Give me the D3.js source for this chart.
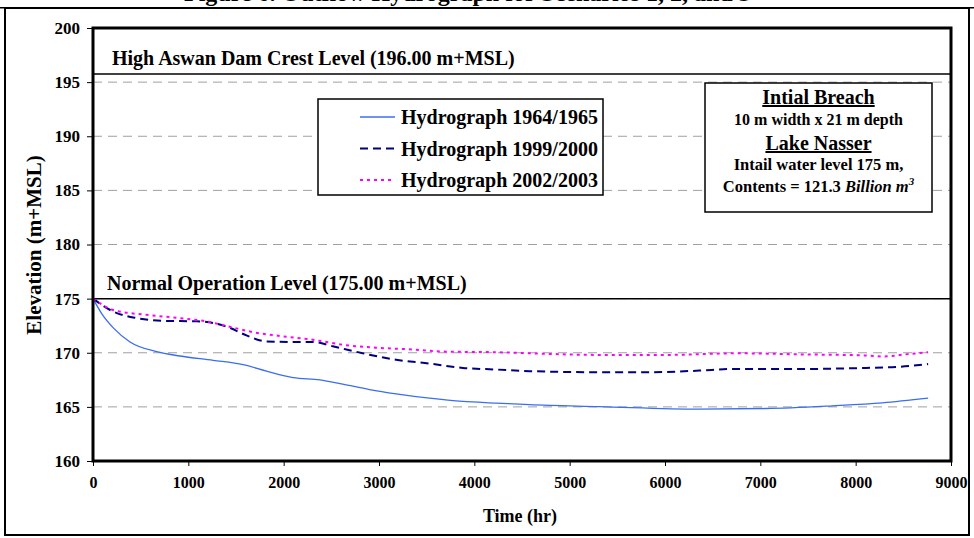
<!DOCTYPE html>
<html><head><meta charset="utf-8">
<script src="https://cdn.jsdelivr.net/npm/d3@7"></script>
<style>
body{margin:0;background:#fff;}
text{font-family:"Liberation Serif","Times New Roman",serif;font-weight:bold;}
</style></head>
<body><svg id="c" width="974" height="538"></svg>
<script>
const titleText = "Figure 6. Outflow Hydrograph for Scenarios 1, 2, and 3";
const xTicks = [0,1000,2000,3000,4000,5000,6000,7000,8000,9000];
const yTicks = [160,165,170,175,180,185,190,195,200];
const gridLevels = [165,170,175,180,185,190,195];
const crestLevel = 195.75;
const normalLevel = 175;
const seriesNames = ["Hydrograph 1964/1965","Hydrograph 1999/2000","Hydrograph 2002/2003"];

const t1 = [0,100,213,388,667,911,1260,1575,1820,2100,2380,2620,2900,3180,3530,3880,4230,4580,5312,6360,7058,7756,8280,8760];
const e1 = [175,173.5,172.3,171.0,170.1,169.7,169.3,168.9,168.3,167.7,167.5,167.1,166.6,166.2,165.8,165.5,165.35,165.2,165.03,164.8,164.85,165.1,165.37,165.8];

const t2 = [0,213,458,737,1086,1260,1435,1610,1820,2134,2305,2515,2830,3180,3530,3880,4230,4580,5312,5836,6360,6710,7408,8106,8455,8760];
const e2 = [175,173.8,173.2,172.95,172.9,172.75,172.3,171.6,171.05,171.0,171.0,170.6,169.95,169.35,169.0,168.6,168.45,168.3,168.2,168.2,168.35,168.5,168.5,168.6,168.7,168.95];

const t3 = [0,213,562,911,1190,1435,1680,1960,2305,2655,3005,3355,3705,4230,4580,5312,6010,6780,7408,8106,8280,8525,8760];
const e3 = [175,173.95,173.5,173.2,172.9,172.4,171.9,171.55,171.2,170.7,170.45,170.3,170.1,170.05,169.95,169.8,169.8,169.95,169.85,169.75,169.65,169.85,170.05];

const svg = d3.select("#c");
const L=93,R=951,T=28,B=461;
const x = d3.scaleLinear().domain([0,9000]).range([L,R]);
const y = d3.scaleLinear().domain([160,200]).range([B,T]);

// outer frame
svg.append("rect").attr("x",5).attr("y",8).attr("width",964).attr("height",527)
  .attr("fill","none").attr("stroke","#000").attr("stroke-width",2);
// clipped title
svg.append("text").attr("x",184).attr("y",1).attr("font-size",24).text(titleText);
svg.append("rect").attr("x",0).attr("y",7).attr("width",974).attr("height",1.5).attr("fill","#000");

// gridlines
svg.selectAll(".g").data(gridLevels).enter().append("line")
  .attr("x1",L).attr("x2",R).attr("y1",d=>y(d)).attr("y2",d=>y(d))
  .attr("stroke","#a0a0a0").attr("stroke-width",1).attr("stroke-dasharray","9,6");

// reference lines
[crestLevel, normalLevel].forEach(v=>{
  svg.append("line").attr("x1",L).attr("x2",R).attr("y1",y(v)).attr("y2",y(v))
    .attr("stroke","#000").attr("stroke-width",1.5);
});
svg.append("text").attr("x",112).attr("y",y(crestLevel)-9).attr("font-size",20)
  .text("High Aswan Dam Crest Level (196.00 m+MSL)");
svg.append("text").attr("x",107).attr("y",y(normalLevel)-9).attr("font-size",20)
  .text("Normal Operation Level (175.00 m+MSL)");

// series
const line = d3.line().x(d=>x(d[0])).y(d=>y(d[1])).curve(d3.curveMonotoneX);
const series = [
  {t:t1,e:e1,color:"#3a6ef0",w:1.3,dash:null},
  {t:t2,e:e2,color:"#000080",w:2,dash:"8,5"},
  {t:t3,e:e3,color:"#ff00ff",w:2,dash:"3,4"}
];
series.forEach(s=>{
  svg.append("path").datum(s.t.map((t,i)=>[t,s.e[i]]))
    .attr("d",line).attr("fill","none").attr("stroke",s.color)
    .attr("stroke-width",s.w).attr("stroke-dasharray",s.dash);
});

// plot border
svg.append("rect").attr("x",L).attr("y",T).attr("width",R-L).attr("height",B-T)
  .attr("fill","none").attr("stroke","#000").attr("stroke-width",3);

// axes
const ya = svg.append("g").attr("transform",`translate(${L},0)`)
  .call(d3.axisLeft(y).tickValues(yTicks).tickSize(6).tickPadding(7).tickFormat(d3.format("d")));
const xa = svg.append("g").attr("transform",`translate(0,${B})`)
  .call(d3.axisBottom(x).tickValues(xTicks).tickSize(5).tickPadding(11).tickFormat(d3.format("d")));
[ya,xa].forEach((a,i)=>{
  a.select(".domain").remove();
  a.selectAll("text").attr("font-size",i===0?17:16).attr("fill","#000")
   .style("font-family","'Liberation Serif',serif").style("font-weight","bold");
  a.selectAll("line").attr("stroke","#000");
});

// axis titles
svg.append("text").attr("transform","translate(41,245) rotate(-90)").attr("text-anchor","middle")
  .attr("font-size",21).text("Elevation (m+MSL)");
svg.append("text").attr("x",520).attr("y",522).attr("text-anchor","middle")
  .attr("font-size",18).text("Time (hr)");

// legend
const lg = svg.append("g");
lg.append("rect").attr("x",318).attr("y",99).attr("width",285).attr("height",96)
  .attr("fill","#fff").attr("stroke","#000").attr("stroke-width",1.5);
seriesNames.forEach((n,i)=>{
  const yy = 117 + i*31.5;
  const s = series[i];
  lg.append("line").attr("x1",360).attr("x2",395).attr("y1",yy).attr("y2",yy)
    .attr("stroke",s.color).attr("stroke-width",s.w).attr("stroke-dasharray",s.dash);
  lg.append("text").attr("x",401).attr("y",yy+7).attr("font-size",20).text(n);
});

// annotation box
const ab = svg.append("g");
ab.append("rect").attr("x",705).attr("y",83).attr("width",227).attr("height",129)
  .attr("fill","#fff").attr("stroke","#000").attr("stroke-width",1.5);
const cx = 818.5;
ab.append("text").attr("x",cx).attr("y",104).attr("text-anchor","middle").attr("font-size",20)
  .attr("text-decoration","underline").text("Intial Breach");
ab.append("text").attr("x",cx).attr("y",125).attr("text-anchor","middle").attr("font-size",16)
  .text("10 m width x 21 m depth");
ab.append("text").attr("x",cx).attr("y",150).attr("text-anchor","middle").attr("font-size",20)
  .attr("text-decoration","underline").text("Lake Nasser");
ab.append("text").attr("x",cx).attr("y",170).attr("text-anchor","middle").attr("font-size",16.5)
  .text("Intail water level 175 m,");
const ct = ab.append("text").attr("x",cx).attr("y",192).attr("text-anchor","middle").attr("font-size",16.5);
ct.append("tspan").text("Contents = 121.3 ");
ct.append("tspan").attr("font-style","italic").text("Billion m");
ct.append("tspan").attr("font-style","italic").attr("font-size",11).attr("dy",-7).text("3");
</script></body></html>
